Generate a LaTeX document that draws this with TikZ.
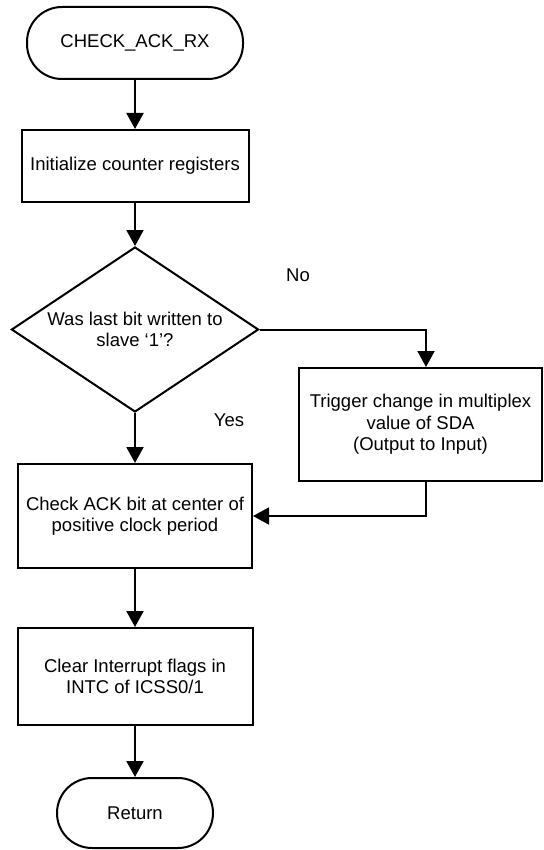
\documentclass[tikz,border=0pt]{standalone}
\usepackage{fontspec}
\setmainfont{Liberation Sans}
\usetikzlibrary{arrows.meta,shapes.geometric,calc}

\begin{document}
\begin{tikzpicture}[x=1pt,y=-1pt,
  every node/.style={font=\fontsize{18.5}{21.5}\selectfont, align=center, inner sep=0pt},
  terminal/.style={draw, line width=2pt, rounded corners=35pt},
  procbox/.style={draw, line width=2pt, rectangle},
  decision/.style={draw, line width=2pt, diamond, aspect=1.497},
  flow/.style={line width=2pt, -{Triangle[length=16pt,width=17pt]}},
  branch/.style={font=\fontsize{18.5}{21.5}\selectfont}
]
\useasboundingbox (0,0) rectangle (543,850);

% main column
\node[terminal, minimum width=216pt, minimum height=72pt] (start) at (135,43) {CHECK\_ACK\_RX};
\node[procbox, minimum width=227pt, minimum height=72pt] (init) at (135,166) {Initialize counter registers};
\node[decision, minimum width=247pt, minimum height=165pt] (dec) at (135,329.5) {Was last bit written to\\slave `1'?};
\node[procbox, minimum width=234pt, minimum height=104pt] (check) at (135,516) {Check ACK bit at center of\\positive clock period};
\node[procbox, minimum width=235pt, minimum height=97pt] (clear) at (135,676.5) {Clear Interrupt flags in\\INTC of ICSS0/1};
\node[terminal, minimum width=156pt, minimum height=70pt] (ret) at (135,813) {Return};

% side branch
\node[procbox, minimum width=243pt, minimum height=113pt] (trig) at (420.5,424.5) {Trigger change in multiplex\\value of SDA\\(Output to Input)};

% branch labels
\node[branch] (no) at (298,275) {No};
\node[branch] (yes) at (229,420) {Yes};

% connectors
\draw[flow] (start.south) -- (init.north);
\draw[flow] (init.south) -- (dec.north);
\draw[flow] (dec.south) -- (check.north);
\draw[flow] (check.south) -- (clear.north);
\draw[flow] (clear.south) -- (ret.north);
\draw[flow] (dec.east) -| ([xshift=5.5pt]trig.north);
\draw[flow] ([xshift=5.5pt]trig.south) |- (check.east);
\end{tikzpicture}
\end{document}
